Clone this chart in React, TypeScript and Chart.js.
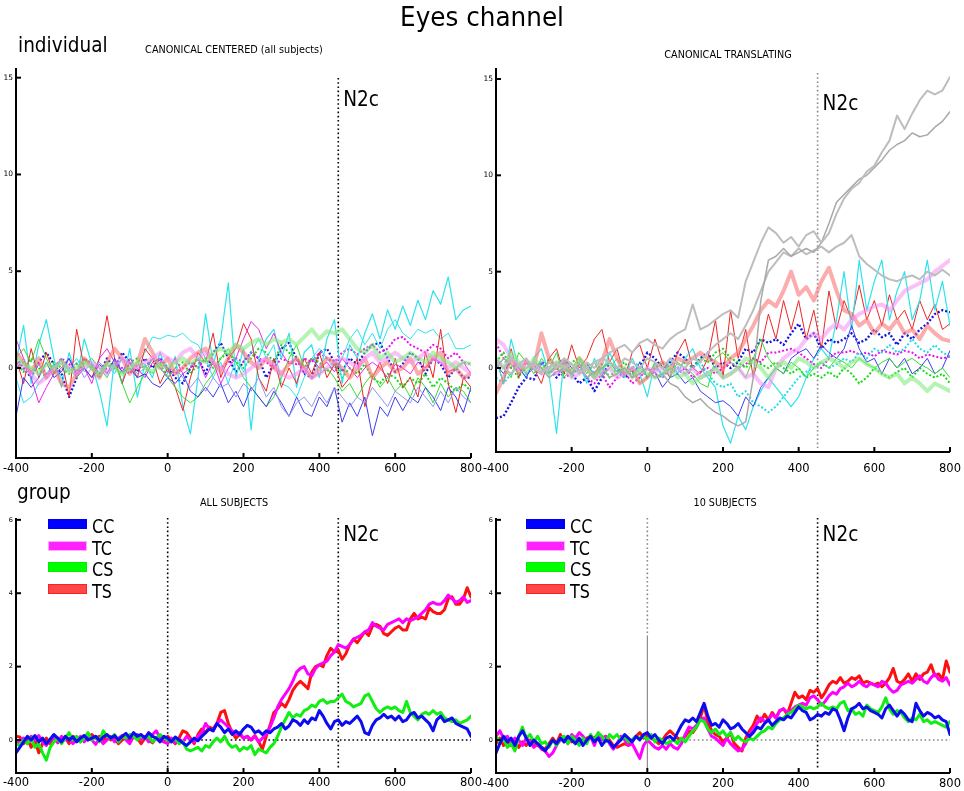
import React, { useEffect, useRef } from "react";
import { Chart, registerables } from "chart.js";
Chart.register(...registerables);

// ---------- sampling grids (ms) ----------
const T20 = [-400,-380,-360,-340,-320,-300,-280,-260,-240,-220,-200,-180,-160,-140,-120,-100,-80,-60,-40,-20,0,20,40,60,80,100,120,140,160,180,200,220,240,260,280,300,320,340,360,380,400,420,440,460,480,500,520,540,560,580,600,620,640,660,680,700,720,740,760,780,800];
const T10 = [-400,-390,-380,-370,-360,-350,-340,-330,-320,-310,-300,-290,-280,-270,-260,-250,-240,-230,-220,-210,-200,-190,-180,-170,-160,-150,-140,-130,-120,-110,-100,-90,-80,-70,-60,-50,-40,-30,-20,-10,0,10,20,30,40,50,60,70,80,90,100,110,120,130,140,150,160,170,180,190,200,210,220,230,240,250,260,270,280,290,300,310,320,330,340,350,360,370,380,390,400,410,420,430,440,450,460,470,480,490,500,510,520,530,540,550,560,570,580,590,600,610,620,630,640,650,660,670,680,690,700,710,720,730,740,750,760,770,780,790,800];

const X_TICKS = [-400, -200, 0, 200, 400, 600, 800];
const Y_TICKS_IND = [0, 5, 10, 15];
const Y_TICKS_GRP = [0, 2, 4, 6];
const N2C_MS = 450;
const LEGEND_LABELS = ["CC", "TC", "CS", "TS"];

// ---------- group: ALL SUBJECTS ----------
const CC_ALL = [-0.35,-0.2,-0.05,0.1,0.0,0.12,-0.05,0.05,-0.1,0.02,
0.15,0.05,-0.05,0.1,0.0,0.08,-0.05,0.05,0.12,0.0,
0.05,0.1,-0.02,0.08,0.15,0.05,0.12,0.0,0.1,0.18,
0.05,0.2,0.1,0.15,0.05,0.2,0.1,0.05,-0.05,0.1,
0.05,-0.05,0.08,0.0,-0.08,-0.15,-0.05,0.05,-0.02,0.1,
0.2,0.3,0.25,0.45,0.35,0.2,0.3,0.15,0.25,0.15,
0.3,0.4,0.35,0.2,0.25,0.15,0.25,0.2,0.3,0.35,
0.45,0.3,0.38,0.55,0.5,0.4,0.55,0.45,0.6,0.55,
0.8,0.65,0.45,0.3,0.5,0.55,0.4,0.5,0.45,0.55,
0.65,0.5,0.2,0.15,0.4,0.55,0.6,0.7,0.6,0.65,
0.55,0.65,0.5,0.55,0.7,0.75,0.6,0.65,0.55,0.45,
0.25,0.55,0.65,0.5,0.55,0.6,0.45,0.4,0.35,0.3,
0.1];
const TC_ALL = [-0.15,0.0,0.05,-0.1,0.1,0.0,0.12,-0.05,-0.15,0.0,
0.05,-0.08,0.1,0.0,0.05,-0.1,0.0,0.1,-0.05,0.08,
0.0,-0.12,0.05,-0.1,0.0,0.1,-0.05,0.05,0.12,0.0,
-0.1,0.1,0.15,0.0,0.1,-0.05,0.15,0.25,0.05,-0.05,
-0.1,0.05,-0.08,0.02,-0.05,0.1,0.0,-0.05,0.1,0.2,
0.45,0.3,0.25,0.45,0.55,0.45,0.35,0.25,0.15,0.2,
0.05,0.1,0.0,0.1,-0.05,0.05,0.15,0.35,0.6,0.9,
1.1,1.25,1.4,1.6,1.85,1.95,2.0,1.8,1.75,1.95,
2.05,2.1,2.15,2.3,2.4,2.6,2.55,2.5,2.6,2.75,
2.8,2.85,2.95,3.0,3.2,3.1,3.05,3.0,3.15,3.2,
3.25,3.3,3.2,3.3,3.25,3.3,3.35,3.45,3.55,3.7,
3.75,3.7,3.7,3.8,3.95,3.85,3.75,3.8,3.9,3.75,
3.8];
const CS_ALL = [-0.1,-0.15,0.0,-0.1,0.05,-0.2,-0.1,-0.35,-0.55,-0.2,
-0.05,0.05,-0.1,0.05,0.2,0.0,0.1,-0.05,0.05,0.2,
0.0,0.1,-0.05,0.25,0.1,0.05,0.15,-0.05,0.1,0.05,
0.15,0.1,0.0,0.12,0.05,0.1,-0.05,0.05,0.15,0.05,
0.0,-0.05,0.05,-0.1,-0.05,-0.25,-0.3,-0.25,-0.2,-0.3,
-0.15,-0.2,-0.05,0.05,-0.05,0.1,-0.1,-0.2,-0.15,-0.3,
-0.2,-0.25,-0.15,-0.4,-0.25,-0.3,-0.35,-0.2,-0.1,0.1,
0.35,0.55,0.75,0.6,0.7,0.65,0.8,0.85,0.95,0.9,
1.05,1.1,1.0,1.05,1.05,1.15,1.25,1.05,1.0,0.9,
0.95,1.0,1.2,1.25,1.05,0.85,0.75,0.85,0.9,0.85,
0.9,0.8,0.75,1.05,0.75,0.65,0.55,0.7,0.75,0.7,
0.8,0.7,0.75,0.6,0.55,0.5,0.55,0.45,0.5,0.55,
0.65];
const TS_ALL = [0.1,0.08,-0.1,0.05,-0.2,0.0,-0.35,-0.1,0.05,-0.1,
0.1,0.0,-0.05,0.08,-0.1,0.1,0.05,-0.05,0.12,0.0,
0.15,0.05,0.1,-0.05,0.1,0.0,0.05,-0.1,0.0,0.08,
-0.05,0.1,0.05,-0.1,0.05,0.0,-0.08,0.05,0.0,-0.05,
0.1,0.0,-0.1,0.05,0.25,0.2,0.05,-0.1,0.15,0.3,
0.2,0.35,0.3,0.45,0.75,0.8,0.45,0.2,0.05,0.15,
0.05,0.1,0.0,0.12,-0.05,-0.25,0.1,0.4,0.75,0.85,
1.0,0.9,1.1,1.35,1.5,1.6,1.5,1.4,1.85,2.0,
2.05,2.0,2.3,2.5,2.4,2.45,2.2,2.35,2.6,2.75,
2.65,2.8,2.95,2.85,3.1,3.15,3.1,2.9,2.85,2.95,
3.05,3.1,3.0,3.0,3.3,3.45,3.3,3.35,3.3,3.6,
3.5,3.45,3.45,3.55,3.85,3.9,3.7,3.7,3.85,4.15,
3.9];

// ---------- group: 10 SUBJECTS ----------
const CC_10 = [-0.35,-0.1,0.1,-0.05,0.05,-0.15,0.1,0.25,0.05,-0.15,
0.0,-0.1,-0.2,-0.3,-0.15,0.0,-0.1,0.05,-0.05,0.1,
0.0,-0.1,0.05,-0.15,0.0,0.1,-0.05,0.05,-0.15,0.0,
-0.05,-0.2,-0.1,0.0,0.15,0.05,-0.05,0.1,0.0,0.15,
0.2,0.05,0.15,0.0,-0.1,0.05,0.1,0.0,0.2,0.4,
0.55,0.5,0.6,0.5,0.75,1.0,0.65,0.4,0.45,0.35,
0.55,0.45,0.3,0.35,0.45,0.3,0.2,0.1,0.2,0.35,
0.3,0.45,0.55,0.4,0.5,0.6,0.55,0.65,0.6,0.75,
0.9,0.8,0.75,0.55,0.6,0.7,0.65,0.75,0.7,0.85,
0.8,0.55,0.25,0.6,0.85,0.9,1.0,0.85,0.9,0.8,
0.75,0.7,0.6,0.85,0.95,0.8,0.65,0.8,0.7,0.55,
0.5,1.0,0.8,0.65,0.75,0.7,0.6,0.65,0.55,0.5,
0.15];
const TC_10 = [0.1,0.25,0.05,0.1,-0.1,0.05,0.0,-0.15,0.05,-0.05,
-0.2,-0.1,-0.25,-0.3,-0.45,-0.35,-0.15,0.0,0.05,-0.1,
0.15,0.05,0.2,0.1,-0.05,0.1,-0.15,0.15,0.0,0.1,
-0.1,-0.25,-0.1,0.1,0.0,-0.15,-0.1,-0.3,-0.5,-0.15,
0.0,-0.1,-0.2,-0.25,-0.15,-0.25,-0.1,-0.2,-0.25,-0.1,
0.15,0.35,0.3,0.4,0.55,0.6,0.3,0.1,0.05,-0.05,
-0.15,0.05,-0.1,-0.2,-0.3,-0.25,-0.1,0.15,0.3,0.45,
0.6,0.5,0.55,0.7,0.6,0.8,0.85,0.75,0.8,0.9,
0.95,1.0,0.95,1.15,1.2,1.1,0.95,1.05,1.2,1.3,
1.25,1.4,1.45,1.55,1.45,1.5,1.6,1.5,1.45,1.55,
1.5,1.45,1.6,1.55,1.4,1.3,1.35,1.5,1.55,1.6,
1.55,1.65,1.75,1.6,1.55,1.7,1.8,1.65,1.6,1.7,
1.5];
const CS_10 = [0.1,-0.05,0.05,-0.2,-0.1,-0.3,0.1,0.35,0.05,0.15,
-0.05,0.1,-0.1,-0.05,-0.2,0.0,-0.15,0.05,0.1,-0.1,
0.1,0.0,-0.15,0.05,-0.1,0.15,0.0,0.2,0.1,-0.05,
0.15,0.05,0.15,0.0,0.1,-0.05,0.0,0.1,0.05,0.1,
0.0,0.15,-0.05,0.05,0.0,-0.1,-0.05,0.0,-0.1,0.05,
-0.05,0.1,0.25,0.35,0.55,0.5,0.3,0.2,0.3,0.15,
0.25,0.1,0.2,0.0,0.1,0.0,-0.05,0.05,0.0,0.1,
0.2,0.25,0.35,0.3,0.45,0.55,0.6,0.7,0.75,0.85,
0.95,0.9,0.85,0.9,0.85,0.9,1.0,0.9,0.85,0.9,
0.85,1.0,1.05,0.8,0.85,0.7,0.75,0.65,0.95,0.85,
0.8,0.75,0.9,1.15,0.85,0.7,0.8,0.75,0.6,0.5,
0.6,0.55,0.7,0.5,0.55,0.45,0.5,0.45,0.4,0.35,
0.5];
const TS_10 = [-0.1,0.05,-0.15,-0.05,-0.15,0.0,-0.2,-0.05,-0.15,0.0,
-0.1,-0.15,-0.2,-0.25,-0.1,0.05,-0.1,0.15,-0.05,0.1,
-0.05,0.05,-0.1,0.0,0.05,0.1,0.05,0.15,0.05,0.1,
0.0,-0.15,-0.2,-0.15,-0.1,-0.15,0.0,0.1,0.2,0.05,
0.15,0.05,0.0,-0.1,0.0,0.15,0.25,0.15,0.05,0.0,
0.1,0.25,0.2,0.35,0.6,0.95,0.5,0.25,0.15,0.1,
-0.05,0.05,0.2,-0.1,-0.2,-0.3,0.05,0.25,0.4,0.65,
0.5,0.7,0.55,0.75,0.6,0.8,0.85,0.7,1.0,1.3,
1.15,1.2,1.1,1.35,1.3,1.4,1.15,1.3,1.5,1.6,
1.55,1.7,1.55,1.6,1.7,1.65,1.75,1.55,1.6,1.55,
1.5,1.55,1.45,1.55,1.7,1.95,1.6,1.55,1.65,1.8,
1.6,1.8,1.65,1.8,1.85,2.05,1.75,1.8,1.65,2.15,
1.85];

// ---------- individual: CANONICAL CENTERED ----------
const TL_CYAN_A = [0.3,2.2,-0.8,1.2,2.5,0.5,-1.0,0.8,-0.5,1.5,
0.2,-1.2,-3.0,0.5,-0.8,1.0,-1.5,0.2,-0.5,0.8,
-0.3,0.6,-2.0,-3.4,-0.5,2.8,0.2,1.5,4.4,-0.5,
1.0,-3.2,0.5,1.5,2.0,0.5,1.8,-1.0,0.8,1.2,
-0.5,1.5,2.5,-0.8,1.2,0.5,1.8,2.8,1.5,3.0,
2.0,3.2,2.2,3.5,2.5,4.0,3.3,4.7,2.5,3.0,
3.2];
const TL_CYAN_B = [-0.5,-1.8,-1.5,-0.8,-0.3,0.2,-0.5,0.0,0.5,-0.2,
0.3,-0.5,0.2,-0.3,0.5,-0.2,0.3,0.8,1.6,1.5,
1.7,1.6,1.8,1.4,1.2,0.5,-0.5,0.3,-0.8,0.5,
-0.2,0.8,1.5,0.5,1.2,-0.8,-1.0,-1.5,-0.5,0.5,
1.0,0.5,0.0,0.5,1.5,2.0,1.2,1.8,1.0,2.0,
2.5,1.8,1.5,2.0,1.8,2.0,1.5,1.8,1.0,1.0,
1.2];
const TL_RED = [0.5,-0.8,1.0,-0.5,0.8,-0.3,0.5,-1.5,2.0,0.0,
-0.5,0.5,2.7,0.5,-0.8,0.3,-0.5,1.0,0.5,-0.8,
0.0,-1.0,-2.2,-0.5,0.8,0.3,1.8,-0.5,0.5,1.0,
2.3,1.5,-0.5,-1.2,0.5,-1.0,0.0,-0.8,0.5,-0.3,
0.8,-0.5,0.2,-1.0,-0.5,0.5,-2.0,-0.5,0.3,-0.8,
0.5,-1.0,-0.5,-1.5,0.8,-0.5,2.0,-0.8,-2.3,-0.5,
-1.0];
const TL_RED_LIGHT = [0.8,0.3,-0.2,0.5,-0.5,0.0,-0.8,-1.0,-0.3,0.5,
0.0,-0.5,0.3,1.0,0.5,-0.3,0.2,1.5,0.8,0.0,
0.5,-0.3,0.0,0.5,0.8,1.0,0.3,-0.2,0.5,1.2,
0.8,0.3,0.0,0.5,0.0,-0.3,0.2,0.5,0.0,-0.5,
0.0,0.5,0.3,0.0,-0.5,0.0,0.5,-0.5,0.0,0.3,
-0.2,0.0,0.5,-0.3,0.0,0.5,0.8,-0.3,0.0,-0.5,
-0.3];
const TL_BLUE_DOT = [0.5,0.0,-0.5,0.3,0.8,0.2,-0.3,-1.5,-0.5,0.5,
0.0,-0.3,0.5,0.0,0.8,0.3,-0.2,0.5,0.0,0.5,
0.0,-0.5,-0.8,0.0,0.5,-0.3,0.8,1.3,0.5,-0.2,
0.3,0.8,0.5,-0.5,0.2,1.0,1.3,0.5,-0.3,-0.5,
0.8,1.0,0.3,-0.2,0.5,0.2,0.8,1.2,1.3,0.5,
-0.2,0.2,0.8,0.5,-0.3,0.5,0.2,-0.5,0.0,-0.5,
-0.5];
const TL_BLUE_MID = [-2.5,-0.5,-1.0,-0.5,0.3,-0.5,-0.2,0.5,-0.3,0.0,
-0.5,0.2,-0.3,0.5,-0.2,0.0,-0.5,-0.3,-0.8,-1.0,
-0.5,-0.8,-0.3,-1.2,-1.5,-1.0,-1.5,-0.8,-1.8,-1.2,
-2.0,-1.0,-1.5,-2.0,-1.2,-1.8,-2.5,-1.5,-2.3,-2.5,
-1.5,-2.0,-1.0,-2.8,-1.8,-2.5,-1.5,-3.5,-2.0,-2.5,
-1.5,-2.2,-1.5,-1.8,-1.0,-1.5,-2.2,-1.0,-1.5,-2.3,
-1.0];
const TL_BLUE_LIGHT = [0.0,0.5,-0.3,0.2,-0.5,0.0,0.5,-0.2,0.3,-0.5,
0.0,0.3,-0.2,0.0,0.5,0.2,-0.3,0.0,0.5,0.0,
-0.5,0.0,-0.5,-1.0,-0.5,-1.2,-0.5,-1.0,-0.8,-1.5,
-0.8,-1.2,-0.5,-1.5,-1.0,-2.0,-2.5,-1.8,-1.5,-2.0,
-1.2,-1.8,-1.0,-1.5,-2.0,-1.5,-1.8,-1.0,-1.5,-2.0,
-1.2,-1.5,-1.8,-1.0,-1.5,-2.0,-1.2,-1.8,-1.0,-1.5,
-1.8];
const TL_MAGENTA = [1.5,0.5,-0.5,-1.8,-1.0,-0.3,0.0,0.5,-0.5,0.0,
-0.8,0.5,1.0,0.3,-0.2,0.5,0.0,-0.5,0.3,0.5,
-0.2,0.5,-0.3,0.0,0.5,-0.5,0.3,-0.8,0.0,0.5,
1.5,2.4,2.0,1.0,1.8,0.8,0.2,0.5,-0.3,0.5,
0.0,0.3,-0.2,0.5,0.0,-0.5,0.0,0.3,0.0,-0.5,
0.2,0.0,-0.3,0.3,0.0,0.5,0.3,-0.2,0.0,0.3,
-0.3];
const TL_MAGENTA_DOT = [0.0,0.3,-0.2,0.2,-0.3,0.0,0.5,0.2,-0.2,0.5,
0.2,-0.3,0.0,0.3,0.0,-0.3,0.2,0.0,0.5,0.3,
0.0,-0.3,0.0,0.3,0.0,0.5,0.2,0.0,0.3,0.5,
0.3,0.8,0.5,0.3,0.0,0.5,0.3,0.2,0.5,0.3,
0.8,0.5,0.3,0.8,1.0,0.7,1.0,1.2,0.8,1.0,
1.5,1.6,1.2,1.0,0.8,1.2,1.0,0.5,0.8,0.3,
0.2];
const TL_GREEN = [0.5,1.0,0.3,1.5,0.5,-0.3,0.5,0.0,-0.5,0.2,
0.5,0.0,-0.5,0.3,-0.8,-1.8,-1.0,-0.3,0.5,0.0,
-0.5,-1.0,-1.5,-1.8,-1.5,-0.8,-0.3,0.5,1.0,0.3,
-0.5,-1.0,-1.5,-2.0,-1.5,-0.5,0.5,1.2,0.0,-0.5,
-0.3,0.0,-0.5,-1.2,-0.8,-1.5,-0.8,-0.3,-1.0,-0.5,
-1.2,-0.8,-1.5,-0.5,-1.0,-1.8,-0.8,-1.5,-1.0,-1.2,
-1.8];
const TL_GREEN_LIGHT = [0.5,0.2,0.0,-0.3,0.2,0.0,0.3,-0.2,0.0,0.3,
0.0,-0.3,0.2,0.0,-0.3,0.0,0.3,0.0,-0.2,0.2,
0.0,0.3,0.5,0.2,0.5,0.3,0.8,1.0,0.8,1.2,
1.0,1.3,1.5,1.2,1.5,1.3,1.5,1.2,1.6,2.0,
1.5,1.9,1.8,2.0,1.5,1.0,0.8,1.2,0.5,0.8,
0.3,0.5,0.8,0.5,0.3,0.8,0.5,0.3,0.0,0.3,
0.2];
const TL_GREEN_DOT = [0.3,-0.2,0.5,0.0,-0.5,0.3,0.0,-0.3,0.2,0.5,
0.0,-0.5,0.3,0.0,-0.3,0.3,0.5,0.0,-0.3,0.2,
-0.5,0.0,0.3,-0.3,0.2,0.5,0.0,0.5,0.8,0.3,
0.0,0.5,1.0,0.8,0.3,1.2,0.8,0.5,0.0,0.5,
0.3,-0.2,0.3,-0.5,0.0,-0.3,0.2,-0.5,-0.8,-0.3,
-0.5,-1.0,-0.5,-0.8,-0.3,-1.0,-0.5,-0.8,-1.2,-0.8,
-1.2];
const TL_PINK_LIGHT = [0.3,0.0,-0.3,-0.8,-0.5,0.0,0.3,0.0,-0.3,0.0,
0.3,0.0,-0.3,0.2,0.5,0.2,0.0,0.3,0.5,0.8,
0.5,0.3,0.8,1.0,0.5,0.8,0.3,0.0,-0.3,-0.5,
-0.3,0.0,0.3,0.5,0.2,-0.3,-0.5,-0.3,0.0,-0.5,
-0.3,0.0,0.3,0.5,0.3,0.0,0.5,0.8,0.3,0.5,
0.8,0.5,0.3,0.5,0.8,0.5,0.3,0.0,0.3,0.0,
-0.3];

// ---------- individual: CANONICAL TRANSLATING ----------
const TR_GREY1 = [0.3,0.0,0.5,0.2,0.0,0.3,-0.2,0.0,0.3,0.0,
0.2,-0.3,0.0,0.3,0.5,0.8,1.0,1.2,0.8,1.3,
1.5,1.2,1.0,1.5,1.8,2.0,3.3,2.0,2.2,2.5,
2.8,3.0,2.6,4.5,5.5,6.5,7.3,7.0,6.5,6.8,
6.3,6.9,7.1,6.5,7.0,8.0,8.8,9.3,9.6,10.2,
10.5,11.2,11.8,13.1,12.4,13.2,13.9,14.4,14.2,14.4,
15.1];
const TR_GREY2 = [0.0,0.5,0.2,-0.3,0.0,0.3,0.0,-0.5,-0.2,0.0,
-0.3,0.2,-0.5,-0.2,0.0,-0.5,-0.3,0.0,-0.5,-0.3,
0.0,-0.5,-0.3,-0.8,-1.0,-1.5,-1.8,-1.6,-2.0,-2.3,
-2.5,-2.8,-3.0,-2.8,-0.5,3.5,5.6,5.8,6.2,5.8,
6.0,6.2,6.0,6.5,7.5,8.6,9.0,9.4,9.8,10.0,
10.4,10.8,11.3,11.6,11.8,12.2,12.0,12.1,12.5,12.8,
13.3];
const TR_GREY3 = [0.5,0.0,-0.3,0.2,0.5,0.0,-0.3,0.3,0.0,0.5,
0.2,-0.2,0.3,0.0,0.5,0.3,0.0,0.5,0.3,0.0,
0.5,0.3,0.0,0.5,0.2,0.0,0.5,0.3,0.8,1.2,
1.5,1.8,1.5,2.2,3.0,4.0,5.0,5.5,6.0,5.8,
6.2,5.9,6.1,6.3,6.0,6.3,6.5,6.9,5.8,5.4,
5.1,4.8,4.6,4.5,4.7,4.8,4.6,5.0,4.8,5.1,
4.8];
const TR_RED_LIGHT = [-1.3,-0.5,0.5,-0.2,0.3,0.0,1.8,0.5,0.0,0.3,
-0.3,0.5,0.0,-0.5,0.3,1.5,0.5,-0.3,0.0,-0.8,
-0.5,0.0,0.3,0.0,0.5,0.3,0.5,0.8,0.5,0.3,
0.0,0.5,0.8,1.5,2.2,3.0,3.5,3.2,4.0,5.0,
3.8,4.2,3.5,4.5,5.2,4.0,3.0,2.8,2.2,2.5,
1.8,2.3,2.0,2.5,1.8,2.0,1.5,2.2,1.8,1.5,
1.4];
const TR_RED = [0.5,-0.8,1.0,-0.5,0.5,0.0,-0.8,0.5,1.0,-0.3,
1.2,0.0,0.5,1.5,2.0,0.3,1.0,-0.5,0.8,1.2,
0.0,1.5,0.3,-0.5,0.8,1.5,0.0,-0.3,0.5,2.5,
-0.5,3.0,0.5,2.0,-0.5,1.0,2.8,1.5,3.5,2.0,
3.5,1.5,3.0,1.0,4.0,2.0,3.5,2.5,4.3,2.5,
3.5,2.2,3.8,2.5,3.0,2.0,3.5,2.5,3.3,2.0,
2.3];
const TR_MAGENTA_LIGHT = [1.5,1.2,0.5,0.0,0.3,0.0,-0.3,0.0,-0.3,0.0,
-0.5,-0.3,0.0,-0.5,-0.3,0.0,-0.5,-0.3,0.0,-0.3,
0.0,-0.2,0.0,-0.3,0.0,-0.3,0.0,-0.5,-0.3,0.0,
-0.5,-0.3,0.0,-0.5,-0.3,-0.8,-1.0,0.0,0.5,0.8,
1.0,1.5,1.8,1.5,2.0,2.3,2.0,2.5,2.8,3.0,
3.2,3.3,3.0,3.5,4.0,4.2,4.4,4.6,5.0,5.3,
5.6];
const TR_MAGENTA_DOT = [1.3,0.5,0.0,0.3,-0.3,0.0,0.3,-0.2,0.0,-0.5,
-0.3,0.0,-0.5,-0.8,-0.3,-1.0,-0.5,-0.2,-0.8,-0.5,
0.0,-0.3,-0.5,0.0,-0.3,0.0,-0.5,-0.2,0.0,-0.3,
0.0,0.3,0.0,0.2,0.5,0.3,0.8,0.8,0.9,1.0,
0.8,0.5,0.2,0.0,0.5,0.8,0.8,0.9,0.7,0.8,
0.6,0.9,0.8,0.7,0.9,0.8,0.5,0.7,0.6,0.5,
0.6];
const TR_BLUE_DOT = [-2.6,-2.5,-1.8,-1.0,-0.5,-0.6,0.3,0.0,-0.5,0.0,
-0.3,-0.8,-0.5,-1.2,-0.5,0.3,0.0,-0.5,-0.2,0.0,
0.8,0.5,0.0,0.3,0.8,0.5,0.0,0.5,0.8,0.0,
0.3,0.0,0.3,1.0,0.8,1.5,1.3,1.5,1.2,1.8,
2.3,1.5,1.8,1.0,1.5,1.3,1.5,1.8,1.3,1.5,
2.0,1.6,1.8,1.2,1.8,1.5,2.0,2.3,2.8,3.0,
2.9];
const TR_BLUE_MID = [0.2,-0.3,0.5,0.0,-0.5,0.3,0.0,-0.3,0.2,0.5,
0.0,-0.3,0.3,-0.5,0.0,0.3,-0.2,0.0,-0.5,0.3,
-0.5,-0.2,-1.0,-0.5,-0.3,-0.8,-0.5,-1.2,-1.5,-1.8,
-1.7,-2.0,-2.5,-1.5,-2.0,-1.0,-0.5,0.0,-0.3,0.5,
0.8,1.0,0.5,1.2,0.8,0.5,1.0,2.2,1.0,0.3,
0.5,-0.3,0.5,0.0,0.5,-0.3,0.0,0.5,-0.3,0.0,
0.9];
const TR_CYAN = [0.5,-0.8,1.5,0.0,-0.5,0.5,1.0,-0.3,-3.4,0.5,
-0.5,0.3,-0.8,0.5,-0.3,0.8,0.0,-0.5,0.5,-0.3,
-1.5,0.3,-0.5,0.5,-0.3,0.5,1.0,0.0,-0.5,-1.0,
-3.0,-3.9,-2.5,-3.2,-2.0,-1.2,-0.5,-1.0,-1.5,-2.0,
-1.5,-0.5,0.5,1.0,0.5,2.5,5.0,2.0,5.6,3.0,
4.5,5.6,2.5,4.0,5.0,2.5,3.5,5.6,3.0,4.5,
2.2];
const TR_CYAN_DOT = [-0.5,-0.8,-0.3,0.2,-0.3,0.0,0.3,-0.2,0.0,0.3,
-0.3,0.0,0.2,-0.3,0.0,0.3,0.0,-0.3,0.0,0.3,
-0.5,0.0,-0.3,0.2,0.0,-0.3,0.0,0.3,-0.3,-0.8,
-1.0,-0.8,-1.5,-1.2,-1.8,-2.0,-2.3,-2.0,-1.5,-1.0,
-0.5,-0.2,0.0,0.3,0.0,0.2,0.5,0.3,0.8,0.5,
1.0,0.8,1.2,0.8,1.0,1.5,1.0,0.8,1.2,0.8,
0.6];
const TR_GREEN_DOT = [0.3,0.8,0.0,-0.5,0.3,0.0,-0.3,0.5,0.0,-0.3,
0.3,0.5,0.0,-0.3,0.2,-0.5,0.0,0.3,-0.3,0.0,
-0.5,0.0,0.3,-0.2,0.0,0.3,0.0,0.5,0.3,0.8,
1.0,0.5,0.3,0.0,0.5,0.2,0.0,0.3,0.0,-0.3,
0.0,-0.5,-0.3,-0.5,-0.2,-0.5,0.0,-0.3,-0.8,-0.5,
0.0,-0.3,-0.5,-0.2,0.0,-0.5,0.0,-0.3,-0.5,-0.3,
-0.8];
const TR_GREEN_LIGHT = [0.5,0.0,0.8,0.3,-0.2,0.5,0.0,-0.3,0.3,0.0,
-0.3,0.5,0.0,-0.5,0.0,0.3,-0.3,0.0,-0.5,0.0,
-0.3,-0.5,-0.3,0.0,-0.5,-0.3,-0.8,-0.5,-0.3,0.0,
-0.5,-0.3,0.0,0.5,0.3,0.0,-0.5,0.0,0.3,0.0,
0.5,0.3,0.0,0.3,0.5,0.3,0.0,0.3,0.5,0.2,
0.0,-0.3,-0.5,-0.3,-0.8,-0.5,-0.8,-1.2,-0.8,-1.0,
-1.2];
const TR_GREEN = [0.5,0.0,-0.5,0.8,0.3,-0.3,0.5,0.0,0.8,-0.5,
0.0,0.5,-0.3,0.3,-0.5,0.0,0.5,-0.3,0.0,-0.8,
-0.5,0.3,0.0,-0.5,0.3,0.0,-0.3,-0.8,-1.0,0.5,
0.8,0.3,0.0,-0.5,0.5,1.5,0.5,0.0,-0.3,0.3,
0.0,-0.5,0.0,0.3,0.0,0.5,0.3,0.0,0.5,0.2,
0.0,0.3,0.5,0.0,0.3,0.5,0.2,0.0,-0.3,0.0,
-0.5];

// ---------- styles ----------
type LineSpec = { data: number[]; color: string; width: number; dash?: number[] };

const C_CYAN = "#2ee4ec";
const C_RED = "#ee2424";
const C_RED_LIGHT = "rgba(248,118,118,0.6)";
const C_BLUE_DOT = "#1414e2";
const C_BLUE_MID = "#3c3cf0";
const C_BLUE_LIGHT = "#9292f2";
const C_MAG = "#ee22ee";
const C_MAG_LIGHT = "rgba(245,140,245,0.55)";
const C_GREEN = "#33dd33";
const C_GREEN_LIGHT = "rgba(130,235,130,0.6)";
const C_GREY = "#bdbdbd";
const C_GREY2 = "#a8a8a8";
const DOT = [2, 2];

const TL_LINES: LineSpec[] = [
  { data: TL_GREEN_LIGHT, color: C_GREEN_LIGHT, width: 4 },
  { data: TL_PINK_LIGHT, color: C_MAG_LIGHT, width: 4 },
  { data: TL_RED_LIGHT, color: C_RED_LIGHT, width: 4 },
  { data: TL_BLUE_LIGHT, color: C_BLUE_LIGHT, width: 1 },
  { data: TL_BLUE_MID, color: C_BLUE_MID, width: 1 },
  { data: TL_GREEN, color: C_GREEN, width: 1 },
  { data: TL_RED, color: C_RED, width: 1 },
  { data: TL_MAGENTA, color: C_MAG, width: 1 },
  { data: TL_CYAN_B, color: C_CYAN, width: 1 },
  { data: TL_CYAN_A, color: C_CYAN, width: 1.2 },
  { data: TL_GREEN_DOT, color: "#11dd11", width: 2, dash: DOT },
  { data: TL_MAGENTA_DOT, color: "#ee11ee", width: 2, dash: DOT },
  { data: TL_BLUE_DOT, color: C_BLUE_DOT, width: 2.2, dash: DOT },
];

const TR_LINES: LineSpec[] = [
  { data: TR_GREY1, color: C_GREY, width: 2 },
  { data: TR_GREY2, color: C_GREY2, width: 1.5 },
  { data: TR_GREY3, color: C_GREY, width: 2 },
  { data: TR_GREEN_LIGHT, color: C_GREEN_LIGHT, width: 4 },
  { data: TR_MAGENTA_LIGHT, color: C_MAG_LIGHT, width: 4 },
  { data: TR_RED_LIGHT, color: C_RED_LIGHT, width: 4 },
  { data: TR_GREEN, color: C_GREEN, width: 1 },
  { data: TR_BLUE_MID, color: C_BLUE_MID, width: 1 },
  { data: TR_CYAN, color: C_CYAN, width: 1.2 },
  { data: TR_RED, color: C_RED, width: 1 },
  { data: TR_CYAN_DOT, color: "#22dde8", width: 2, dash: DOT },
  { data: TR_GREEN_DOT, color: "#11dd11", width: 2, dash: DOT },
  { data: TR_MAGENTA_DOT, color: "#ee11ee", width: 2, dash: DOT },
  { data: TR_BLUE_DOT, color: C_BLUE_DOT, width: 2.4, dash: DOT },
];

const G_BLUE = "#0c0cf0";
const G_MAG = "#ff00ff";
const G_GREEN = "#11ee11";
const G_RED = "#ff1010";

const BL_LINES: LineSpec[] = [
  { data: CC_ALL, color: G_BLUE, width: 3 },
  { data: CS_ALL, color: G_GREEN, width: 3 },
  { data: TC_ALL, color: G_MAG, width: 3 },
  { data: TS_ALL, color: G_RED, width: 3 },
];
const BR_LINES: LineSpec[] = [
  { data: CC_10, color: G_BLUE, width: 3 },
  { data: CS_10, color: G_GREEN, width: 3 },
  { data: TC_10, color: G_MAG, width: 3 },
  { data: TS_10, color: G_RED, width: 3 },
];

const LEG_FILL = ["#0000ff", "#ff22ff", "#00ff00", "#ff4848"];
const LEG_EDGE = ["#0000ee", "#ffaaff", "#00ee00", "#ff2020"];

const FONT = '"DejaVu Sans", Verdana, sans-serif';

interface PanelSpec {
  plot: { l: number; r: number; t: number; b: number };
  yMin: number;
  yMax: number;
  yTicks: number[];
  yTickFont: number;
  times: number[];
  lines: LineSpec[];
  xLabelY: number;
  n2c: { color: string; top: number; baseline: number };
  zero?: { color: string; solidTo?: number };
  legend?: { rectX: number; textX: number; rows: number[] };
}

const PANELS: PanelSpec[] = [
  {
    plot: { l: 16, r: 471, t: 68, b: 458 },
    yMin: -4.65, yMax: 15.5, yTicks: Y_TICKS_IND, yTickFont: 7.5,
    times: T20, lines: TL_LINES, xLabelY: 469,
    n2c: { color: "#000", top: 78, baseline: 106 },
  },
  {
    plot: { l: 496, r: 950, t: 68, b: 452 },
    yMin: -4.36, yMax: 15.57, yTicks: Y_TICKS_IND, yTickFont: 7.5,
    times: T20, lines: TR_LINES, xLabelY: 469,
    n2c: { color: "#8a8a8a", top: 73, baseline: 110 },
  },
  {
    plot: { l: 16, r: 471, t: 518, b: 773 },
    yMin: -0.9, yMax: 6.05, yTicks: Y_TICKS_GRP, yTickFont: 6.5,
    times: T10, lines: BL_LINES, xLabelY: 783,
    n2c: { color: "#000", top: 518, baseline: 541 },
    zero: { color: "#000" },
    legend: { rectX: 48, textX: 92, rows: [524, 546, 567, 589] },
  },
  {
    plot: { l: 496, r: 950, t: 518, b: 773 },
    yMin: -0.9, yMax: 6.05, yTicks: Y_TICKS_GRP, yTickFont: 6.5,
    times: T10, lines: BR_LINES, xLabelY: 784,
    n2c: { color: "#000", top: 518, baseline: 541 },
    zero: { color: "#888", solidTo: 2.85 },
    legend: { rectX: 526, textX: 570, rows: [524, 546, 567, 589] },
  },
];

const W = 964;
const H = 791;

function dotted(ctx: CanvasRenderingContext2D, x1: number, y1: number, x2: number, y2: number, color: string) {
  ctx.save();
  ctx.strokeStyle = color;
  ctx.lineWidth = 1.6;
  ctx.setLineDash([1.6, 2.6]);
  ctx.beginPath();
  ctx.moveTo(x1, y1);
  ctx.lineTo(x2, y2);
  ctx.stroke();
  ctx.restore();
}

function makeDeco(p: PanelSpec) {
  return {
    id: "deco",
    beforeDatasetsDraw(chart: any) {
      const { ctx, chartArea: a, scales } = chart;
      const xs = scales.x, ys = scales.y;
      const xn = xs.getPixelForValue(N2C_MS);
      dotted(ctx, xn, p.n2c.top, xn, a.bottom - 4, p.n2c.color);
      if (p.zero) {
        const x0 = xs.getPixelForValue(0);
        const y0 = ys.getPixelForValue(0);
        if (p.zero.solidTo !== undefined) {
          const ys2 = ys.getPixelForValue(p.zero.solidTo);
          ctx.save();
          ctx.strokeStyle = "#777";
          ctx.lineWidth = 1;
          ctx.beginPath();
          ctx.moveTo(x0, a.bottom);
          ctx.lineTo(x0, ys2);
          ctx.stroke();
          ctx.restore();
          dotted(ctx, x0, a.top, x0, ys2, p.zero.color);
        } else {
          dotted(ctx, x0, a.top, x0, a.bottom, p.zero.color);
        }
        dotted(ctx, x0, y0, a.right, y0, p.zero.color);
      }
    },
    afterDatasetsDraw(chart: any) {
      const { ctx, chartArea: a, scales } = chart;
      const xs = scales.x, ys = scales.y;
      ctx.save();
      ctx.strokeStyle = "#000";
      ctx.lineWidth = 2;
      ctx.setLineDash([]);
      ctx.beginPath();
      ctx.moveTo(a.left, a.top);
      ctx.lineTo(a.left, a.bottom);
      ctx.lineTo(a.right, a.bottom);
      ctx.stroke();
      // x ticks + labels
      ctx.fillStyle = "#000";
      ctx.font = `11.5px ${FONT}`;
      ctx.textAlign = "center";
      ctx.textBaseline = "middle";
      for (const t of X_TICKS) {
        const x = xs.getPixelForValue(t);
        ctx.beginPath();
        ctx.moveTo(x, a.bottom);
        ctx.lineTo(x, a.bottom - 5);
        ctx.stroke();
        ctx.fillText(String(t), x, p.xLabelY);
      }
      // y ticks + labels
      ctx.font = `${p.yTickFont}px ${FONT}`;
      ctx.textAlign = "right";
      for (const t of p.yTicks) {
        const y = ys.getPixelForValue(t);
        ctx.beginPath();
        ctx.moveTo(a.left, y);
        ctx.lineTo(a.left + 5, y);
        ctx.stroke();
        ctx.fillText(String(t), a.left - 3, y);
      }
      // N2c label
      const xn = xs.getPixelForValue(N2C_MS);
      ctx.font = `21px ${FONT}`;
      ctx.textAlign = "left";
      ctx.textBaseline = "alphabetic";
      ctx.save();
      ctx.translate(xn + 5, p.n2c.baseline);
      ctx.scale(0.88, 1);
      ctx.fillText("N2c", 0, 0);
      ctx.restore();
      // legend
      if (p.legend) {
        const lg = p.legend;
        LEGEND_LABELS.forEach((lab, i) => {
          const cy = lg.rows[i];
          ctx.fillStyle = LEG_FILL[i];
          ctx.fillRect(lg.rectX, cy - 5, 39, 10);
          ctx.strokeStyle = LEG_EDGE[i];
          ctx.lineWidth = 1;
          ctx.strokeRect(lg.rectX + 0.5, cy - 4.5, 38, 9);
          ctx.fillStyle = "#000";
          ctx.font = `19px ${FONT}`;
          ctx.save();
          ctx.translate(lg.textX, cy + 9);
          ctx.scale(0.84, 1);
          ctx.fillText(lab, 0, 0);
          ctx.restore();
        });
      }
      ctx.restore();
    },
  };
}

function Panel({ spec }: { spec: PanelSpec }) {
  const ref = useRef<HTMLCanvasElement>(null);
  useEffect(() => {
    const p = spec;
    const chart = new Chart(ref.current as HTMLCanvasElement, {
      type: "line",
      data: {
        datasets: p.lines.map((l) => ({
          data: l.data.map((v, i) => ({ x: p.times[i], y: v })),
          borderColor: l.color,
          borderWidth: l.width,
          borderDash: l.dash || [],
          borderJoinStyle: "round",
          borderCapStyle: l.dash ? "butt" : "round",
          pointRadius: 0,
          fill: false,
          tension: 0,
        })),
      },
      options: {
        animation: false,
        responsive: false,
        events: [],
        layout: {
          padding: { left: p.plot.l, right: W - p.plot.r, top: p.plot.t, bottom: H - p.plot.b },
        },
        plugins: { legend: { display: false }, tooltip: { enabled: false }, title: { display: false } },
        scales: {
          x: { type: "linear", min: -400, max: 800, display: false },
          y: { type: "linear", min: p.yMin, max: p.yMax, display: false },
        },
      } as any,
      plugins: [makeDeco(p)],
    } as any);
    return () => chart.destroy();
  }, [spec]);
  return (
    <canvas
      ref={ref}
      width={W}
      height={H}
      style={{ position: "absolute", left: 0, top: 0, width: W, height: H }}
    />
  );
}

function Text({ text, x, baseline, size, sx, center }: { text: string; x: number; baseline: number; size: number; sx: number; center?: boolean }) {
  return (
    <div
      style={{
        position: "absolute",
        left: x,
        top: baseline - 0.846 * size,
        fontFamily: FONT,
        fontSize: size,
        lineHeight: `${size}px`,
        whiteSpace: "nowrap",
        color: "#000",
        transformOrigin: center ? "center" : "left",
        transform: center ? `translateX(-50%) scaleX(${sx})` : `scaleX(${sx})`,
      }}
    >
      {text}
    </div>
  );
}

export default function App() {
  return (
    <div style={{ position: "absolute", left: 0, top: 0, width: W, height: H, background: "#fff", overflow: "hidden" }}>
      {PANELS.map((p, i) => (
        <Panel key={i} spec={p} />
      ))}
      <Text text="Eyes channel" x={482} baseline={26} size={26} sx={0.95} center />
      <Text text="individual" x={18} baseline={53} size={21} sx={0.88} />
      <Text text="group" x={17} baseline={500} size={21} sx={0.88} />
      <Text text="CANONICAL CENTERED (all subjects)" x={234} baseline={53} size={10.3} sx={0.94} center />
      <Text text="CANONICAL TRANSLATING" x={728} baseline={58} size={10.3} sx={0.94} center />
      <Text text="ALL SUBJECTS" x={234} baseline={505.5} size={10.3} sx={0.94} center />
      <Text text="10 SUBJECTS" x={725} baseline={505.5} size={10.3} sx={0.94} center />
    </div>
  );
}
